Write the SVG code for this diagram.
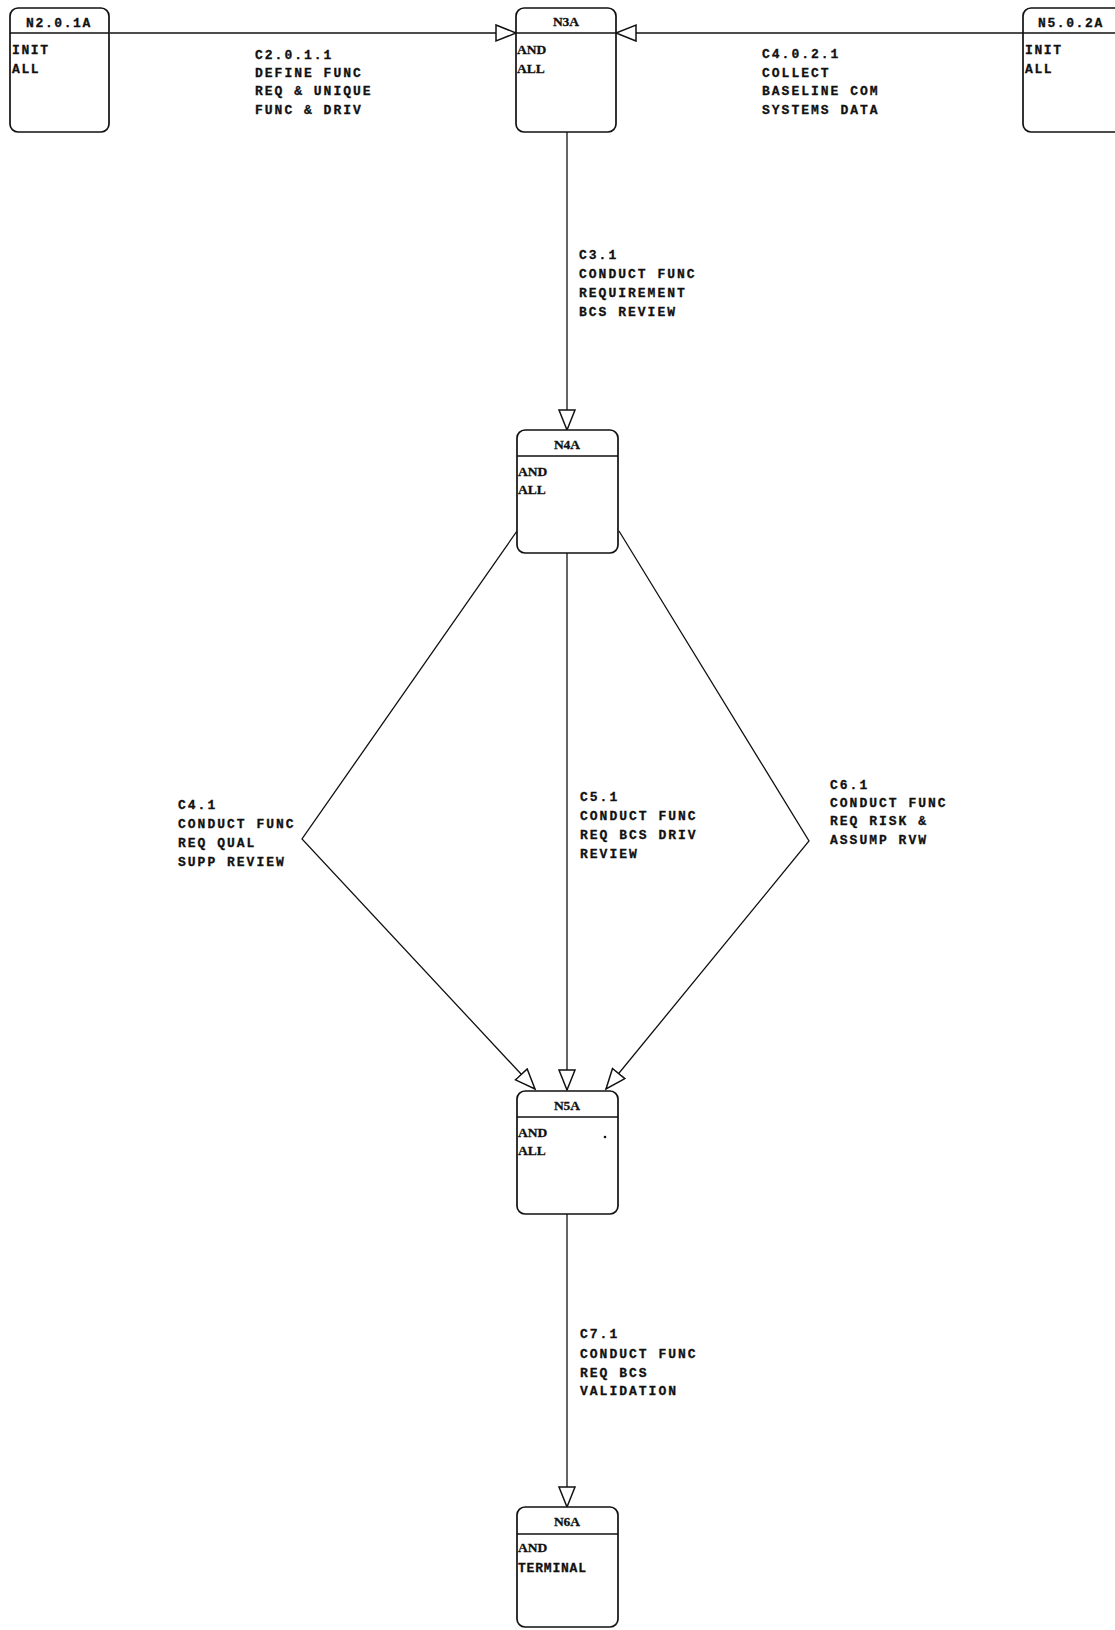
<svg xmlns="http://www.w3.org/2000/svg" width="1115" height="1630" viewBox="0 0 1115 1630">
<style>
.box{fill:#fff;stroke:#111;stroke-width:1.7}
.hdr{stroke:#111;stroke-width:1.7}
.conn{fill:none;stroke:#111;stroke-width:1.3}
.lbl{font-family:"Liberation Mono",monospace;font-weight:bold;font-size:13px;letter-spacing:2px;fill:#111;stroke:#111;stroke-width:0.3}
.mono{font-family:"Liberation Mono",monospace;font-weight:bold;font-size:13px;letter-spacing:1.6px;fill:#111;stroke:#111;stroke-width:0.3}
.ser{font-family:"Liberation Serif",serif;font-weight:bold;font-size:13.5px;fill:#111;stroke:#111;stroke-width:0.3}
</style>
<defs>
<marker id="arr" markerUnits="userSpaceOnUse" markerWidth="24" markerHeight="20" refX="21" refY="9" orient="auto" viewBox="0 0 24 20">
<path d="M1,1 L21,9 L1,17 Z" fill="#fff" stroke="#111" stroke-width="1.5"/>
</marker>
</defs>
<rect width="1115" height="1630" fill="#fff"/>
<g id="connectors">
<line class="conn" x1="110" y1="33" x2="516" y2="33" marker-end="url(#arr)"/>
<line class="conn" x1="1023" y1="33" x2="616" y2="33" marker-end="url(#arr)"/>
<line class="conn" x1="567" y1="132" x2="567" y2="430" marker-end="url(#arr)"/>
<polyline class="conn" points="517,531 302,839 535,1089" marker-end="url(#arr)"/>
<line class="conn" x1="567" y1="553" x2="567" y2="1090" marker-end="url(#arr)"/>
<polyline class="conn" points="619,531 809,841 606,1089" marker-end="url(#arr)"/>
<line class="conn" x1="567" y1="1214" x2="567" y2="1507" marker-end="url(#arr)"/>
<g id="labels">
<text class="lbl" x="255" y="59">C2.0.1.1</text>
<text class="lbl" x="255" y="77">DEFINE FUNC</text>
<text class="lbl" x="255" y="95">REQ &amp; UNIQUE</text>
<text class="lbl" x="255" y="114">FUNC &amp; DRIV</text>
<text class="lbl" x="762" y="58">C4.0.2.1</text>
<text class="lbl" x="762" y="77">COLLECT</text>
<text class="lbl" x="762" y="95">BASELINE COM</text>
<text class="lbl" x="762" y="114">SYSTEMS DATA</text>
<text class="lbl" x="579" y="259">C3.1</text>
<text class="lbl" x="579" y="278">CONDUCT FUNC</text>
<text class="lbl" x="579" y="297">REQUIREMENT</text>
<text class="lbl" x="579" y="316">BCS REVIEW</text>
<text class="lbl" x="178" y="809">C4.1</text>
<text class="lbl" x="178" y="828">CONDUCT FUNC</text>
<text class="lbl" x="178" y="847">REQ QUAL</text>
<text class="lbl" x="178" y="866">SUPP REVIEW</text>
<text class="lbl" x="580" y="801">C5.1</text>
<text class="lbl" x="580" y="820">CONDUCT FUNC</text>
<text class="lbl" x="580" y="839">REQ BCS DRIV</text>
<text class="lbl" x="580" y="858">REVIEW</text>
<text class="lbl" x="830" y="789">C6.1</text>
<text class="lbl" x="830" y="807">CONDUCT FUNC</text>
<text class="lbl" x="830" y="825">REQ RISK &amp;</text>
<text class="lbl" x="830" y="844">ASSUMP RVW</text>
<text class="lbl" x="580" y="1338">C7.1</text>
<text class="lbl" x="580" y="1358">CONDUCT FUNC</text>
<text class="lbl" x="580" y="1377">REQ BCS</text>
<text class="lbl" x="580" y="1395">VALIDATION</text>
</g>
</g>
<g id="N2.0.1A">
<rect class="box" x="10" y="8" width="99" height="124" rx="8"/>
<line class="hdr" x1="10" y1="33" x2="109" y2="33"/>
<text class="mono" x="59" y="27" text-anchor="middle">N2.0.1A</text>
<text class="mono" x="12" y="54">INIT</text>
<text class="mono" x="12" y="73">ALL</text>
</g>
<g id="N3A">
<rect class="box" x="516" y="8" width="100" height="124" rx="8"/>
<line class="hdr" x1="516" y1="33" x2="616" y2="33"/>
<text class="ser" x="566" y="26" text-anchor="middle">N3A</text>
<text class="ser" x="517" y="54">AND</text>
<text class="ser" x="517" y="73">ALL</text>
</g>
<g id="N5.0.2A">
<rect class="box" x="1023" y="8" width="110" height="124" rx="8"/>
<line class="hdr" x1="1023" y1="33" x2="1115" y2="33"/>
<text class="mono" x="1038" y="27">N5.0.2A</text>
<text class="mono" x="1025" y="54">INIT</text>
<text class="mono" x="1025" y="73">ALL</text>
</g>
<g id="N4A">
<rect class="box" x="517" y="430" width="101" height="123" rx="8"/>
<line class="hdr" x1="517" y1="456" x2="618" y2="456"/>
<text class="ser" x="567" y="449" text-anchor="middle">N4A</text>
<text class="ser" x="518" y="476">AND</text>
<text class="ser" x="518" y="494">ALL</text>
</g>
<g id="N5A">
<rect class="box" x="517" y="1091" width="101" height="123" rx="8"/>
<line class="hdr" x1="517" y1="1117" x2="618" y2="1117"/>
<text class="ser" x="567" y="1110" text-anchor="middle">N5A</text>
<text class="ser" x="518" y="1137">AND</text>
<text class="ser" x="518" y="1155">ALL</text>
<circle cx="605" cy="1137" r="1.3" fill="#111"/>
</g>
<g id="N6A">
<rect class="box" x="517" y="1507" width="101" height="120" rx="8"/>
<line class="hdr" x1="517" y1="1534" x2="618" y2="1534"/>
<text class="ser" x="567" y="1526" text-anchor="middle">N6A</text>
<text class="ser" x="518" y="1552">AND</text>
<text class="mono" x="518" y="1572" style="letter-spacing:0.8px">TERMINAL</text>
</g>
</svg>
